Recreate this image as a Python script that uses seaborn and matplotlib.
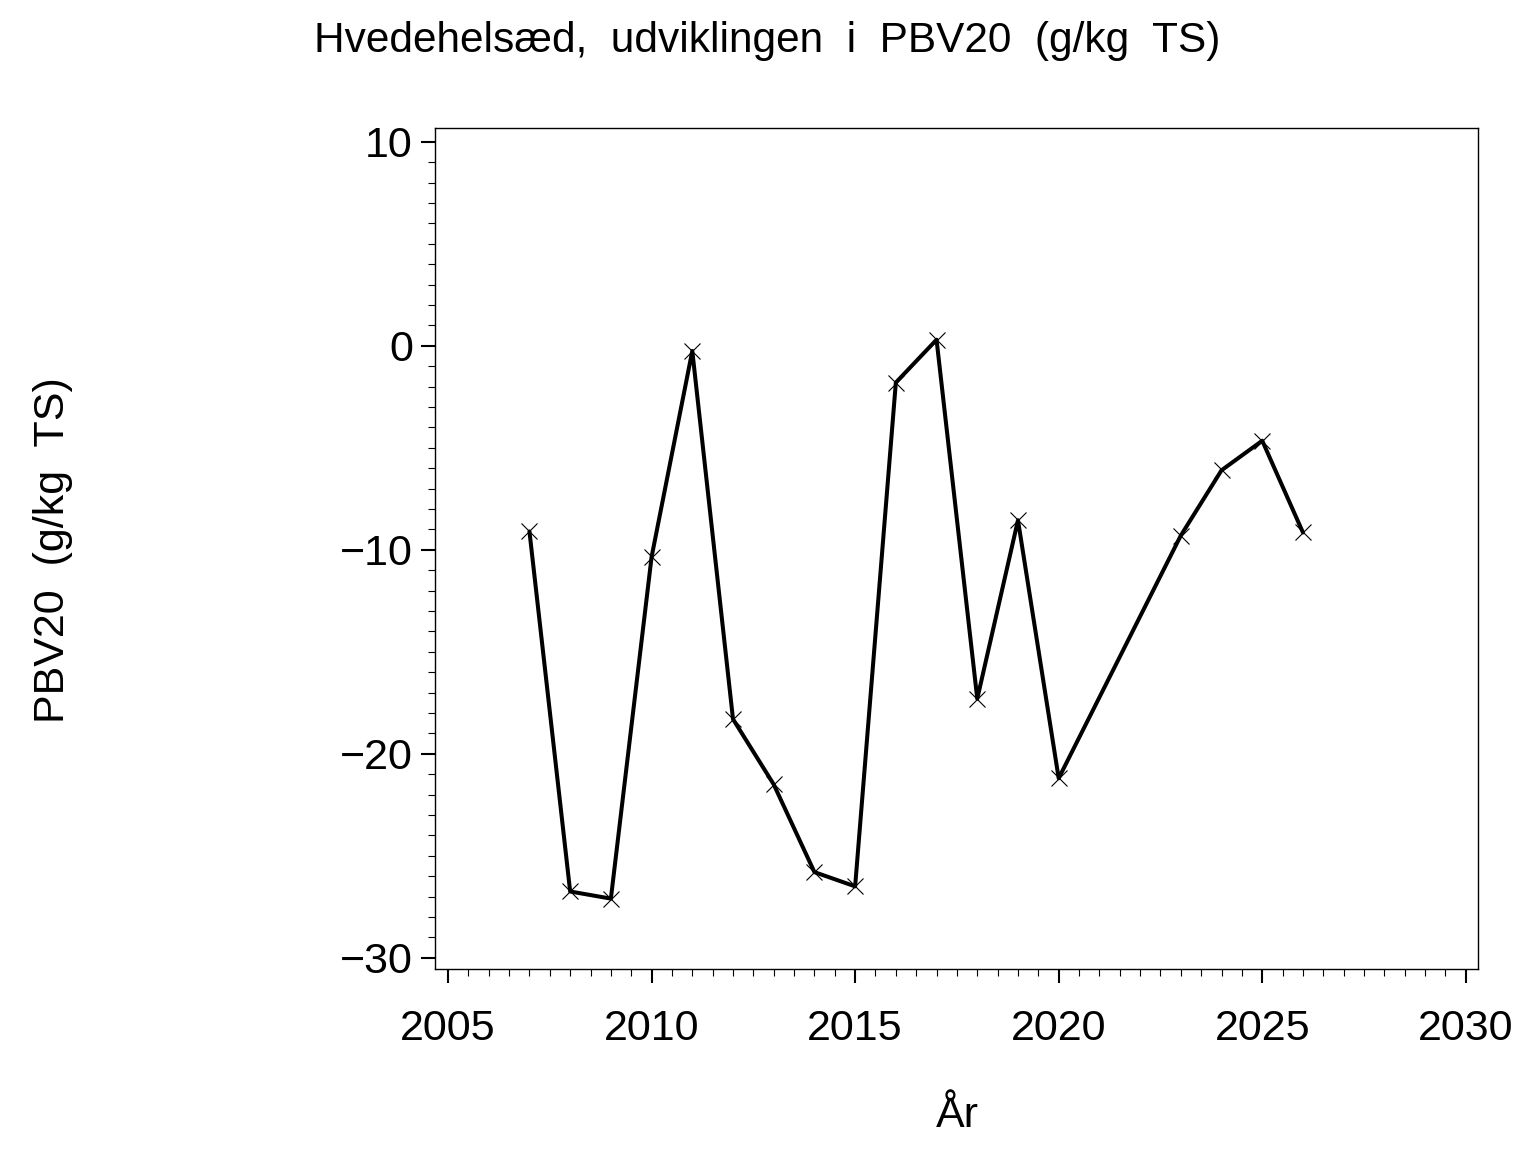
import matplotlib
matplotlib.use("Agg")
import matplotlib.pyplot as plt
from matplotlib.ticker import MultipleLocator
import seaborn as sns
import pandas as pd

years = [2007, 2008, 2009, 2010, 2011, 2012, 2013, 2014, 2015, 2016, 2017,
         2018, 2019, 2020, 2023, 2024, 2025, 2026]
pbv20 = [-9.1, -26.75, -27.1, -10.35, -0.25, -18.3, -21.5, -25.8, -26.5, -1.8, 0.3,
         -17.3, -8.55, -21.2, -9.3, -6.1, -4.65, -9.15]

title = "Hvedehelsæd,  udviklingen  i  PBV20  (g/kg  TS)"
ylabel = "PBV20  (g/kg  TS)"
xlabel = "År"
xticks = [2005, 2010, 2015, 2020, 2025, 2030]
yticks = [-30, -20, -10, 0, 10]

df = pd.DataFrame({"year": years, "pbv20": pbv20})

sns.set_style("ticks")
plt.rcParams["font.family"] = ["Liberation Sans", "DejaVu Sans"]
plt.rcParams["text.color"] = "black"

fig = plt.figure(figsize=(15.36, 11.52), dpi=100)
ax = fig.add_axes([435 / 1536, 1 - 969 / 1152, (1478 - 435) / 1536, (969 - 128) / 1152])

sns.lineplot(data=df, x="year", y="pbv20", ax=ax, color="black", linewidth=2.9,
             marker="x", markersize=12, markeredgewidth=0.8, markeredgecolor="black",
             sort=False, legend=False)

ax.set_xlim(2004.68, 2030.3)
ax.set_ylim(-30.55, 10.68)
ax.set_xticks(xticks)
ax.set_yticks(yticks)
ax.xaxis.set_minor_locator(MultipleLocator(0.5))
ax.yaxis.set_minor_locator(MultipleLocator(1))
ax.tick_params(axis="both", which="major", length=10, width=1.5, color="black",
               labelsize=31, labelcolor="black")
ax.tick_params(axis="both", which="minor", length=5, width=0.8, color="black")
ax.tick_params(axis="y", which="major", pad=6)
ax.tick_params(axis="x", which="major", pad=19)
for s in ax.spines.values():
    s.set_visible(True)
    s.set_linewidth(1.0)
    s.set_color("black")
ax.set_xlabel("")
ax.set_ylabel("")

fig.text(0.4993, 1 - 52 / 1152, title, ha="center", va="baseline", fontsize=30.5, color="black")
fig.text(53 / 1536, 1 - 550 / 1152, ylabel, ha="center", va="center", rotation=90,
         fontsize=31, color="black")
fig.text(957 / 1536, 1 - 1127 / 1152, xlabel, ha="center", va="baseline", fontsize=31,
         color="black")

fig.savefig("out.png", dpi=100, facecolor="white")
